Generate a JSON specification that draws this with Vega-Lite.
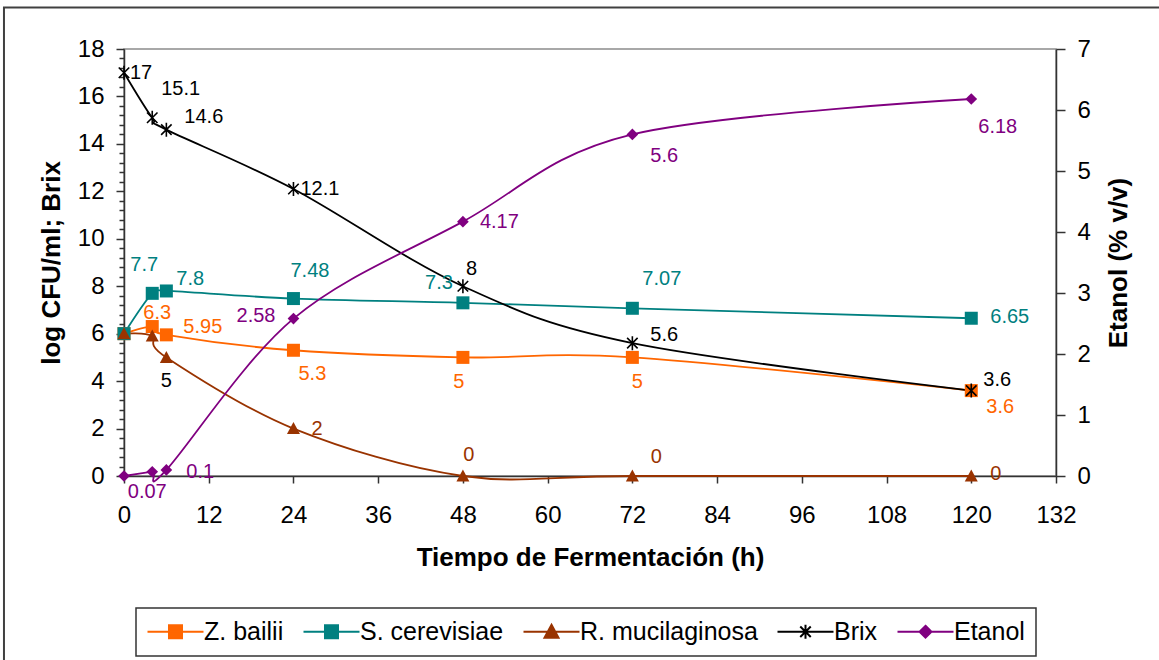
{
  "$schema": "https://vega.github.io/schema/vega-lite/v6.json",
  "autosize": {"type": "none"},
  "padding": {"left": 124, "top": 49, "right": 103, "bottom": 184},
  "width": 932,
  "height": 427,
  "background": "white",
  "config": {
    "font": "Liberation Sans",
    "view": {"stroke": "#8c8c8c", "strokeWidth": 1.5},
    "axis": {
      "grid": false,
      "labelFont": "Liberation Sans",
      "labelFontSize": 24,
      "labelColor": "black",
      "titleFont": "Liberation Sans",
      "titleFontSize": 26,
      "titleFontWeight": "bold",
      "titleColor": "black",
      "domainColor": "#333333",
      "domainWidth": 1.5,
      "tickColor": "#333333",
      "tickWidth": 1.5,
      "labelOverlap": false,
      "labelFlush": false
    },
    "legend": {"strokeWidth": 1.5}
  },
  "data": {
    "values": [
      {"s": "Z. bailii", "t": 0, "v": 6},
      {"s": "Z. bailii", "t": 4, "v": 6.3},
      {"s": "Z. bailii", "t": 6, "v": 5.95},
      {"s": "Z. bailii", "t": 24, "v": 5.3},
      {"s": "Z. bailii", "t": 48, "v": 5},
      {"s": "Z. bailii", "t": 72, "v": 5},
      {"s": "Z. bailii", "t": 120, "v": 3.6},
      {"s": "S. cerevisiae", "t": 0, "v": 6},
      {"s": "S. cerevisiae", "t": 4, "v": 7.7},
      {"s": "S. cerevisiae", "t": 6, "v": 7.8},
      {"s": "S. cerevisiae", "t": 24, "v": 7.48},
      {"s": "S. cerevisiae", "t": 48, "v": 7.3},
      {"s": "S. cerevisiae", "t": 72, "v": 7.07},
      {"s": "S. cerevisiae", "t": 120, "v": 6.65},
      {"s": "R. mucilaginosa", "t": 0, "v": 6},
      {"s": "R. mucilaginosa", "t": 4, "v": 5.9},
      {"s": "R. mucilaginosa", "t": 6, "v": 5},
      {"s": "R. mucilaginosa", "t": 24, "v": 2},
      {"s": "R. mucilaginosa", "t": 48, "v": 0},
      {"s": "R. mucilaginosa", "t": 72, "v": 0},
      {"s": "R. mucilaginosa", "t": 120, "v": 0},
      {"s": "Brix", "t": 0, "v": 17},
      {"s": "Brix", "t": 4, "v": 15.1},
      {"s": "Brix", "t": 6, "v": 14.6},
      {"s": "Brix", "t": 24, "v": 12.1},
      {"s": "Brix", "t": 48, "v": 8},
      {"s": "Brix", "t": 72, "v": 5.6},
      {"s": "Brix", "t": 120, "v": 3.6},
      {"s": "Etanol", "t": 0, "v": 0},
      {"s": "Etanol", "t": 4, "v": 0.07},
      {"s": "Etanol", "t": 6, "v": 0.1},
      {"s": "Etanol", "t": 24, "v": 2.58},
      {"s": "Etanol", "t": 48, "v": 4.17},
      {"s": "Etanol", "t": 72, "v": 5.6},
      {"s": "Etanol", "t": 120, "v": 6.18}
    ]
  },
  "encoding": {
    "x": {
      "field": "t",
      "type": "quantitative",
      "scale": {"domain": [0, 132], "nice": false, "zero": false},
      "axis": {
        "values": [0, 12, 24, 36, 48, 60, 72, 84, 96, 108, 120, 132],
        "format": "d",
        "tickSize": 7,
        "labelPadding": 20,
        "title": "Tiempo de Fermentación (h)",
        "titlePadding": 17
      }
    }
  },
  "layer": [
    {
      "transform": [{"filter": "datum.s !== 'Etanol'"}],
      "encoding": {
        "y": {
          "field": "v",
          "type": "quantitative",
          "scale": {"domain": [0, 18], "nice": false, "zero": false},
          "axis": {
            "orient": "left",
            "values": [0, 0.4, 0.8, 1.2, 1.6, 2, 2.4, 2.8, 3.2, 3.6, 4, 4.4, 4.8, 5.2, 5.6, 6, 6.4, 6.8, 7.2, 7.6, 8, 8.4, 8.8, 9.2, 9.6, 10, 10.4, 10.8, 11.2, 11.6, 12, 12.4, 12.8, 13.2, 13.6, 14, 14.4, 14.8, 15.2, 15.6, 16, 16.4, 16.8, 17.2, 17.6, 18],
            "labelExpr": "abs(datum.value / 2 - round(datum.value / 2)) < 0.01 ? format(datum.value, 'd') : ''",
            "tickSize": {"condition": {"test": "abs(datum.value / 2 - round(datum.value / 2)) < 0.01", "value": 8}, "value": 5},
            "labelPadding": 12,
            "title": "log CFU/ml; Brix",
            "titlePadding": 13
          }
        }
      },
      "layer": [
        {
          "transform": [{"filter": "datum.s === 'Brix' && datum.t === 0"}],
          "mark": {"type": "rect", "fill": "transparent", "stroke": "#404040", "strokeWidth": 2, "clip": false},
          "encoding": {
            "x": {"datum": -17},
            "x2": {"datum": 170},
            "y": {"datum": 19.75},
            "y2": {"datum": -12}
          }
        },
        {
          "mark": {"type": "line", "interpolate": "cardinal", "tension": 0, "strokeWidth": 1.8},
          "encoding": {
            "color": {
              "field": "s",
              "type": "nominal",
              "scale": {"domain": ["Z. bailii", "S. cerevisiae", "R. mucilaginosa", "Brix", "Etanol"], "range": ["#FF6600", "#008080", "#993300", "#000000", "#800080"]},
              "legend": {
                "orient": "none",
                "legendX": 12,
                "legendY": 559,
                "direction": "horizontal",
                "columns": 5,
                "title": null,
                "labelFont": "Liberation Sans",
                "labelFontSize": 25,
                "labelColor": "black",
                "labelLimit": 400,
                "symbolSize": 196,
                "symbolOffset": 16,
                "labelOffset": 16,
                "columnPadding": 15,
                "padding": 11,
                "strokeColor": "#333333",
                "encode": {
                  "symbols": {
                    "update": {
                      "shape": {"signal": "datum.value === 'Z. bailii' || datum.value === 'S. cerevisiae' ? 'M-4,0H4M-0.93,-0.93H0.93V0.93H-0.93Z' : datum.value === 'R. mucilaginosa' ? 'M-4,0H4M0,-1L1,0.85H-1Z' : datum.value === 'Brix' ? 'M-4,0H4M-0.75,-0.75L0.75,0.75M-0.75,0.75L0.75,-0.75M0,-1V1' : 'M-4,0H4M0,-0.85L0.85,0L0,0.85L-0.85,0Z'"},
                      "fill": {"signal": "scale('color', datum.value)"},
                      "stroke": {"signal": "scale('color', datum.value)"},
                      "strokeWidth": {"value": 2},
                      "opacity": {"value": 1}
                    }
                  }
                }
              }
            }
          }
        },
        {
          "transform": [{"filter": "datum.s !== 'Brix'"}],
          "mark": {"type": "point", "filled": true, "size": 169, "opacity": 1},
          "encoding": {
            "color": {
              "field": "s",
              "type": "nominal",
              "scale": {"domain": ["Z. bailii", "S. cerevisiae", "R. mucilaginosa", "Brix", "Etanol"], "range": ["#FF6600", "#008080", "#993300", "#000000", "#800080"]},
              "legend": null
            },
            "shape": {
              "field": "s",
              "type": "nominal",
              "scale": {"domain": ["Z. bailii", "S. cerevisiae", "R. mucilaginosa", "Etanol"], "range": ["M-1,-1H1V1H-1Z", "M-1,-1H1V1H-1Z", "M0,-1L1,0.85H-1Z", "M0,-0.9L0.9,0L0,0.9L-0.9,0Z"]},
              "legend": null
            }
          }
        },
        {
          "transform": [{"filter": "datum.s === 'Brix'"}],
          "mark": {"type": "point", "filled": false, "size": 196, "opacity": 1, "stroke": "#000000", "strokeWidth": 1.6, "shape": "M-0.75,-0.75L0.75,0.75M-0.75,0.75L0.75,-0.75M0,-1V1"}
        },
        {"transform": [{"filter": "datum.s === 'Brix' && datum.t === 0"}], "mark": {"type": "text", "align": "left", "dx": 6, "dy": 0, "fontSize": 20, "fill": "#000000"}, "encoding": {"text": {"field": "v", "type": "nominal"}}},
        {"transform": [{"filter": "datum.s === 'Brix' && datum.t === 4"}], "mark": {"type": "text", "align": "left", "dx": 9, "dy": -29, "fontSize": 20, "fill": "#000000"}, "encoding": {"text": {"field": "v", "type": "nominal"}}},
        {"transform": [{"filter": "datum.s === 'Brix' && datum.t === 6"}], "mark": {"type": "text", "align": "left", "dx": 18, "dy": -13, "fontSize": 20, "fill": "#000000"}, "encoding": {"text": {"field": "v", "type": "nominal"}}},
        {"transform": [{"filter": "datum.s === 'Brix' && datum.t === 24"}], "mark": {"type": "text", "align": "left", "dx": 7, "dy": 0, "fontSize": 20, "fill": "#000000"}, "encoding": {"text": {"field": "v", "type": "nominal"}}},
        {"transform": [{"filter": "datum.s === 'Brix' && datum.t === 48"}], "mark": {"type": "text", "align": "left", "dx": 3, "dy": -17, "fontSize": 20, "fill": "#000000"}, "encoding": {"text": {"field": "v", "type": "nominal"}}},
        {"transform": [{"filter": "datum.s === 'Brix' && datum.t === 72"}], "mark": {"type": "text", "align": "left", "dx": 18, "dy": -8, "fontSize": 20, "fill": "#000000"}, "encoding": {"text": {"field": "v", "type": "nominal"}}},
        {"transform": [{"filter": "datum.s === 'Brix' && datum.t === 120"}], "mark": {"type": "text", "align": "left", "dx": 12, "dy": -11, "fontSize": 20, "fill": "#000000"}, "encoding": {"text": {"field": "v", "type": "nominal"}}},
        {"transform": [{"filter": "datum.s === 'Z. bailii' && datum.t === 4"}], "mark": {"type": "text", "align": "center", "dx": 5, "dy": -14, "fontSize": 20, "fill": "#FF6600"}, "encoding": {"text": {"field": "v", "type": "nominal"}}},
        {"transform": [{"filter": "datum.s === 'Z. bailii' && datum.t === 6"}], "mark": {"type": "text", "align": "left", "dx": 17, "dy": -8, "fontSize": 20, "fill": "#FF6600"}, "encoding": {"text": {"field": "v", "type": "nominal"}}},
        {"transform": [{"filter": "datum.s === 'Z. bailii' && datum.t === 24"}], "mark": {"type": "text", "align": "left", "dx": 5, "dy": 24, "fontSize": 20, "fill": "#FF6600"}, "encoding": {"text": {"field": "v", "type": "nominal"}}},
        {"transform": [{"filter": "datum.s === 'Z. bailii' && datum.t === 48"}], "mark": {"type": "text", "align": "center", "dx": -4, "dy": 25, "fontSize": 20, "fill": "#FF6600"}, "encoding": {"text": {"field": "v", "type": "nominal"}}},
        {"transform": [{"filter": "datum.s === 'Z. bailii' && datum.t === 72"}], "mark": {"type": "text", "align": "center", "dx": 5, "dy": 25, "fontSize": 20, "fill": "#FF6600"}, "encoding": {"text": {"field": "v", "type": "nominal"}}},
        {"transform": [{"filter": "datum.s === 'Z. bailii' && datum.t === 120"}], "mark": {"type": "text", "align": "left", "dx": 15, "dy": 16, "fontSize": 20, "fill": "#FF6600"}, "encoding": {"text": {"field": "v", "type": "nominal"}}},
        {"transform": [{"filter": "datum.s === 'S. cerevisiae' && datum.t === 4"}], "mark": {"type": "text", "align": "center", "dx": -8, "dy": -28, "fontSize": 20, "fill": "#008080"}, "encoding": {"text": {"field": "v", "type": "nominal"}}},
        {"transform": [{"filter": "datum.s === 'S. cerevisiae' && datum.t === 6"}], "mark": {"type": "text", "align": "left", "dx": 10, "dy": -12, "fontSize": 20, "fill": "#008080"}, "encoding": {"text": {"field": "v", "type": "nominal"}}},
        {"transform": [{"filter": "datum.s === 'S. cerevisiae' && datum.t === 24"}], "mark": {"type": "text", "align": "left", "dx": -3, "dy": -28, "fontSize": 20, "fill": "#008080"}, "encoding": {"text": {"field": "v", "type": "nominal"}}},
        {"transform": [{"filter": "datum.s === 'S. cerevisiae' && datum.t === 48"}], "mark": {"type": "text", "align": "right", "dx": -10, "dy": -20, "fontSize": 20, "fill": "#008080"}, "encoding": {"text": {"field": "v", "type": "nominal"}}},
        {"transform": [{"filter": "datum.s === 'S. cerevisiae' && datum.t === 72"}], "mark": {"type": "text", "align": "left", "dx": 10, "dy": -29, "fontSize": 20, "fill": "#008080"}, "encoding": {"text": {"field": "v", "type": "nominal"}}},
        {"transform": [{"filter": "datum.s === 'S. cerevisiae' && datum.t === 120"}], "mark": {"type": "text", "align": "left", "dx": 19, "dy": -1, "fontSize": 20, "fill": "#008080"}, "encoding": {"text": {"field": "v", "type": "nominal"}}},
        {"transform": [{"filter": "datum.s === 'R. mucilaginosa' && datum.t === 6"}], "mark": {"type": "text", "align": "center", "dx": 0, "dy": 24, "fontSize": 20, "fill": "#000000"}, "encoding": {"text": {"field": "v", "type": "nominal"}}},
        {"transform": [{"filter": "datum.s === 'R. mucilaginosa' && datum.t === 24"}], "mark": {"type": "text", "align": "left", "dx": 18, "dy": 0, "fontSize": 20, "fill": "#993300"}, "encoding": {"text": {"field": "v", "type": "nominal"}}},
        {"transform": [{"filter": "datum.s === 'R. mucilaginosa' && datum.t === 48"}], "mark": {"type": "text", "align": "center", "dx": 6, "dy": -21, "fontSize": 20, "fill": "#993300"}, "encoding": {"text": {"field": "v", "type": "nominal"}}},
        {"transform": [{"filter": "datum.s === 'R. mucilaginosa' && datum.t === 72"}], "mark": {"type": "text", "align": "center", "dx": 24, "dy": -19, "fontSize": 20, "fill": "#993300"}, "encoding": {"text": {"field": "v", "type": "nominal"}}},
        {"transform": [{"filter": "datum.s === 'R. mucilaginosa' && datum.t === 120"}], "mark": {"type": "text", "align": "left", "dx": 19, "dy": -2, "fontSize": 20, "fill": "#993300"}, "encoding": {"text": {"field": "v", "type": "nominal"}}}
      ]
    },
    {
      "transform": [{"filter": "datum.s === 'Etanol'"}],
      "encoding": {
        "y": {
          "field": "v",
          "type": "quantitative",
          "scale": {"domain": [0, 7], "nice": false, "zero": false},
          "axis": {
            "orient": "right",
            "values": [0, 1, 2, 3, 4, 5, 6, 7],
            "format": "d",
            "tickSize": 9,
            "labelPadding": 12,
            "title": "Etanol (% v/v)",
            "titleAngle": 270,
            "titleBaseline": "top",
            "titlePadding": 15
          }
        }
      },
      "layer": [
        {
          "mark": {"type": "line", "interpolate": "cardinal", "tension": 0, "strokeWidth": 1.8},
          "encoding": {
            "color": {
              "field": "s",
              "type": "nominal",
              "scale": {"domain": ["Z. bailii", "S. cerevisiae", "R. mucilaginosa", "Brix", "Etanol"], "range": ["#FF6600", "#008080", "#993300", "#000000", "#800080"]},
              "legend": null
            }
          }
        },
        {
          "mark": {"type": "point", "filled": true, "size": 169, "opacity": 1},
          "encoding": {
            "color": {
              "field": "s",
              "type": "nominal",
              "scale": {"domain": ["Z. bailii", "S. cerevisiae", "R. mucilaginosa", "Brix", "Etanol"], "range": ["#FF6600", "#008080", "#993300", "#000000", "#800080"]},
              "legend": null
            },
            "shape": {
              "field": "s",
              "type": "nominal",
              "scale": {"domain": ["Z. bailii", "S. cerevisiae", "R. mucilaginosa", "Etanol"], "range": ["M-1,-1H1V1H-1Z", "M-1,-1H1V1H-1Z", "M0,-1L1,0.85H-1Z", "M0,-0.9L0.9,0L0,0.9L-0.9,0Z"]},
              "legend": null
            }
          }
        },
        {"transform": [{"filter": "datum.t === 4"}], "mark": {"type": "text", "align": "center", "dx": -5, "dy": 20, "fontSize": 20, "fill": "#800080"}, "encoding": {"text": {"field": "v", "type": "nominal"}}},
        {"transform": [{"filter": "datum.t === 6"}], "mark": {"type": "text", "align": "left", "dx": 20, "dy": 2, "fontSize": 20, "fill": "#800080"}, "encoding": {"text": {"field": "v", "type": "nominal"}}},
        {"transform": [{"filter": "datum.t === 24"}], "mark": {"type": "text", "align": "right", "dx": -18, "dy": -3, "fontSize": 20, "fill": "#800080"}, "encoding": {"text": {"field": "v", "type": "nominal"}}},
        {"transform": [{"filter": "datum.t === 48"}], "mark": {"type": "text", "align": "left", "dx": 17, "dy": 0, "fontSize": 20, "fill": "#800080"}, "encoding": {"text": {"field": "v", "type": "nominal"}}},
        {"transform": [{"filter": "datum.t === 72"}], "mark": {"type": "text", "align": "left", "dx": 18, "dy": 22, "fontSize": 20, "fill": "#800080"}, "encoding": {"text": {"field": "v", "type": "nominal"}}},
        {"transform": [{"filter": "datum.t === 120"}], "mark": {"type": "text", "align": "left", "dx": 7, "dy": 28, "fontSize": 20, "fill": "#800080"}, "encoding": {"text": {"field": "v", "type": "nominal"}}}
      ]
    }
  ],
  "resolve": {"scale": {"y": "independent"}}
}
